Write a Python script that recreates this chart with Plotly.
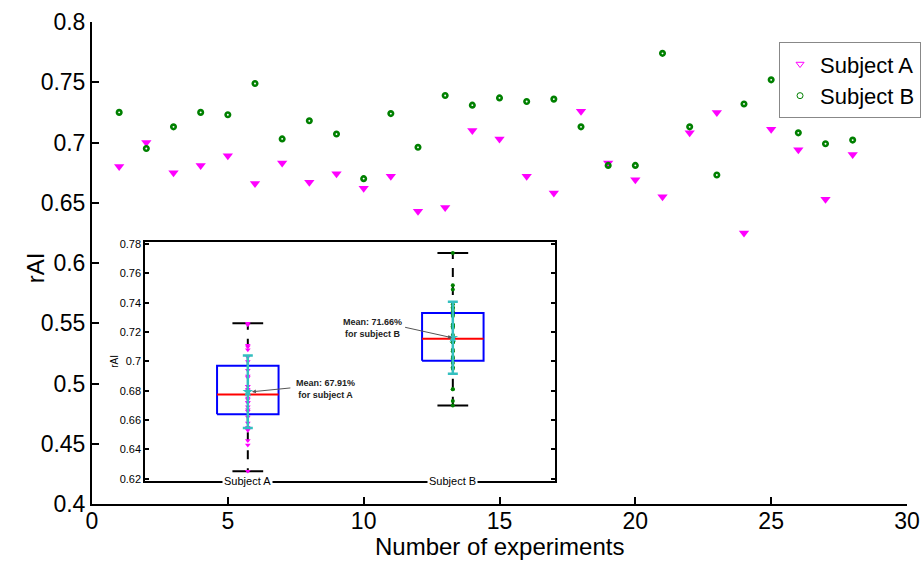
import numpy as np
import plotly.graph_objects as go

# ---------------- data ----------------
experiments = list(range(1, 29))
subject_a = [0.680, 0.700, 0.675, 0.681, 0.689, 0.666, 0.683, 0.667, 0.674, 0.662,
             0.672, 0.643, 0.646, 0.710, 0.703, 0.672, 0.658, 0.726, 0.683, 0.669,
             0.655, 0.708, 0.725, 0.625, 0.711, 0.694, 0.653, 0.690]
subject_b = [0.725, 0.695, 0.713, 0.725, 0.723, 0.749, 0.703, 0.718, 0.707, 0.670,
             0.724, 0.696, 0.739, 0.731, 0.737, 0.734, 0.736, 0.713, 0.681, 0.681,
             0.774, 0.713, 0.673, 0.732, 0.752, 0.708, 0.699, 0.702]
series_names = ["Subject A", "Subject B"]
box_positions = [1, 2]
mean_labels = ["Mean: 67.91%<br>for subject A", "Mean: 71.66%<br>for subject B"]

main_xticks = [0, 5, 10, 15, 20, 25, 30]
main_yticks = [0.4, 0.45, 0.5, 0.55, 0.6, 0.65, 0.7, 0.75, 0.8]
main_yticktext = ["0.4", "0.45", "0.5", "0.55", "0.6", "0.65", "0.7", "0.75", "0.8"]
inset_yticks = [0.62, 0.64, 0.66, 0.68, 0.70, 0.72, 0.74, 0.76, 0.78]
inset_yticktext = ["0.62", "0.64", "0.66", "0.68", "0.7", "0.72", "0.74", "0.76", "0.78"]

FONT = "Liberation Sans, Arial, sans-serif"
MAGENTA = "#ff00ff"
GREEN = "#008000"
CYAN = "#33bfbf"


def box_stats(values):
    s = np.sort(np.asarray(values, dtype=float))
    q1, med, q3 = np.percentile(s, [25, 50, 75], method="hazen")
    iqr = q3 - q1
    lo = s[s >= q1 - 1.5 * iqr].min()
    hi = s[s <= q3 + 1.5 * iqr].max()
    return dict(q1=q1, med=med, q3=q3, lo=lo, hi=hi, mean=s.mean(), std=s.std(ddof=1))


fig = go.Figure()

# ---------------- main scatter ----------------
fig.add_trace(go.Scatter(x=experiments, y=subject_a, mode="markers", showlegend=False,
                         marker=dict(symbol="triangle-down", size=9, color=MAGENTA)))
fig.add_trace(go.Scatter(x=experiments, y=subject_b, mode="markers", showlegend=False,
                         marker=dict(symbol="circle-open", size=4.5, color=GREEN,
                                     line=dict(width=2.6, color=GREEN))))
# legend entries (small open markers as in the original legend)
fig.add_trace(go.Scatter(x=[None], y=[None], mode="markers", name=series_names[0],
                         marker=dict(symbol="triangle-down-open", size=7, color=MAGENTA,
                                     line=dict(width=1, color=MAGENTA))))
fig.add_trace(go.Scatter(x=[None], y=[None], mode="markers", name=series_names[1],
                         marker=dict(symbol="circle-open", size=6, color=GREEN,
                                     line=dict(width=1, color=GREEN))))

# ---------------- inset box plot ----------------
half_w = 0.15
cap_w = 0.075
point_styles = [dict(symbol="triangle-down", size=5, color=MAGENTA),
                dict(symbol="circle", size=4, color=GREEN)]
annotations = []
text_pos = [(1.38, 0.6813), (1.607, 0.7226)]
arrow_tail = [(1.215, 0.682), (1.760, 0.7235)]
arrow_head_dx = [0.02, -0.004]

for i, (vals, p) in enumerate(zip([subject_a, subject_b], box_positions)):
    st = box_stats(vals)
    # box
    fig.add_trace(go.Scatter(
        x=[p - half_w, p + half_w, p + half_w, p - half_w, p - half_w],
        y=[st["q1"], st["q1"], st["q3"], st["q3"], st["q1"]],
        mode="lines", line=dict(color="#0000ff", width=2), showlegend=False,
        xaxis="x2", yaxis="y2", hoverinfo="skip"))
    # whiskers
    fig.add_trace(go.Scatter(
        x=[p, p, None, p, p], y=[st["q3"], st["hi"], None, st["q1"], st["lo"]],
        mode="lines", line=dict(color="black", width=2, dash="dash"), showlegend=False,
        xaxis="x2", yaxis="y2", hoverinfo="skip"))
    # caps
    fig.add_trace(go.Scatter(
        x=[p - cap_w, p + cap_w, None, p - cap_w, p + cap_w],
        y=[st["hi"], st["hi"], None, st["lo"], st["lo"]],
        mode="lines", line=dict(color="black", width=2), showlegend=False,
        xaxis="x2", yaxis="y2", hoverinfo="skip"))
    # median
    fig.add_trace(go.Scatter(
        x=[p - half_w, p + half_w], y=[st["med"], st["med"]],
        mode="lines", line=dict(color="#ff0000", width=2), showlegend=False,
        xaxis="x2", yaxis="y2", hoverinfo="skip"))
    # raw points
    fig.add_trace(go.Scatter(
        x=[p] * len(vals), y=vals, mode="markers", marker=point_styles[i],
        showlegend=False, xaxis="x2", yaxis="y2"))
    # mean +/- std
    fig.add_trace(go.Scatter(
        x=[p], y=[st["mean"]], mode="markers",
        marker=dict(symbol="star", size=8, color=CYAN),
        error_y=dict(type="data", array=[st["std"]], color=CYAN, thickness=2.5, width=5),
        showlegend=False, xaxis="x2", yaxis="y2"))
    # annotation text + arrow
    annotations.append(dict(x=text_pos[i][0], y=text_pos[i][1], xref="x2", yref="y2",
                            text="<b>" + mean_labels[i] + "</b>", showarrow=False,
                            font=dict(family=FONT, size=9, color="#222"), align="center"))
    annotations.append(dict(x=p + arrow_head_dx[i], y=st["mean"],
                            xref="x2", yref="y2", ax=arrow_tail[i][0], ay=arrow_tail[i][1],
                            axref="x2", ayref="y2", text="", showarrow=True,
                            arrowhead=2, arrowsize=0.8, arrowwidth=1, arrowcolor="#555"))
    # category label sitting on the inset's bottom line
    annotations.append(dict(x=p, y=0, xref="x2", yref="y2 domain", text=series_names[i],
                            showarrow=False, xanchor="center", yanchor="middle",
                            bgcolor="white",
                            font=dict(family=FONT, size=11, color="black")))

# axis titles
annotations.append(dict(x=0, y=0.5, xref="x2 domain", yref="y2 domain", xshift=-31,
                        xanchor="center", yanchor="middle",
                        text="rAI", textangle=-90, showarrow=False,
                        font=dict(family=FONT, size=10, color="black")))
annotations.append(dict(x=0, y=0.489, xref="paper", yref="paper", xshift=-57,
                        xanchor="center", yanchor="middle",
                        text="rAI", textangle=-90, showarrow=False,
                        font=dict(family=FONT, size=24, color="black")))
annotations.append(dict(x=0.5, y=0, xref="paper", yref="paper", yshift=-42,
                        xanchor="center", yanchor="middle",
                        text="Number of experiments", showarrow=False,
                        font=dict(family=FONT, size=24, color="black")))

fig.update_layout(
    width=923, height=561,
    margin=dict(l=92, r=16, t=22, b=57, autoexpand=False),
    paper_bgcolor="white", plot_bgcolor="white",
    font=dict(family=FONT, size=23, color="black"),
    xaxis=dict(domain=[0, 1], range=[0, 30], tickvals=main_xticks,
               ticks="inside", ticklen=7, tickwidth=2, tickcolor="black",
               ticklabelstandoff=-5,
               showline=True, linewidth=2, linecolor="black", mirror=False,
               showgrid=False, zeroline=False, tickfont=dict(size=23)),
    yaxis=dict(domain=[0, 1], range=[0.4, 0.8], tickvals=main_yticks, ticktext=main_yticktext,
               ticks="inside", ticklen=7, tickwidth=2, tickcolor="black",
               showline=True, linewidth=2, linecolor="black", mirror=False,
               showgrid=False, zeroline=False, tickfont=dict(size=23)),
    xaxis2=dict(domain=[0.0654, 0.5685], anchor="y2", range=[0.5, 2.5],
                showticklabels=False, ticks="", showline=True, linewidth=2,
                linecolor="black", mirror=True, showgrid=False, zeroline=False),
    yaxis2=dict(domain=[0.0483, 0.5433], anchor="x2", range=[0.6186, 0.7814],
                tickvals=inset_yticks, ticktext=inset_yticktext,
                ticks="inside", ticklen=4, tickwidth=1.5, tickcolor="black",
                showline=True, linewidth=2, linecolor="black", mirror="ticks",
                showgrid=False, zeroline=False, tickfont=dict(size=11)),
    legend=dict(x=0.843, y=0.958, xanchor="left", yanchor="top",
                bordercolor="#888", borderwidth=1, bgcolor="white",
                font=dict(family=FONT, size=22, color="black"), tracegroupgap=0),
    annotations=annotations,
    showlegend=True,
)

fig.write_html("out.html")
